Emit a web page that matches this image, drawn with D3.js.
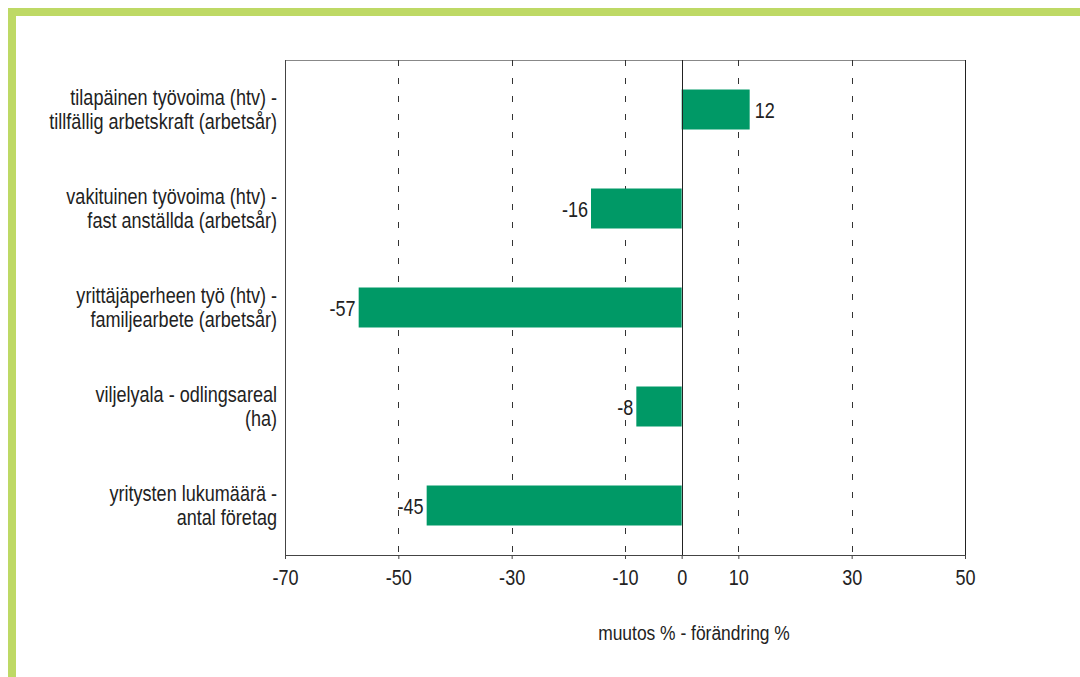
<!DOCTYPE html>
<html><head><meta charset="utf-8">
<script src="https://cdn.jsdelivr.net/npm/d3@7"></script>
<style>
html,body{margin:0;padding:0;background:#fff;}
svg text{font-family:"Liberation Sans",Arial,sans-serif;fill:#222;}
</style></head>
<body><svg id="c" width="1080" height="677"></svg>
<script>
const categories = [
  ["tilapäinen työvoima (htv) -", "tillfällig arbetskraft (arbetsår)"],
  ["vakituinen työvoima (htv) -", "fast anställda (arbetsår)"],
  ["yrittäjäperheen työ (htv) -", "familjearbete (arbetsår)"],
  ["viljelyala  - odlingsareal", "(ha)"],
  ["yritysten lukumäärä -", "antal företag"]
];
const values = [12, -16, -57, -8, -45];
const tickValues = [-70, -50, -30, -10, 0, 10, 30, 50];
const gridValues = [-50, -30, -10, 10, 30];
const axisTitle = "muutos % - förändring %";

const svg = d3.select("#c");
const L = 285, R = 965, T = 60, B = 555;
const FONT = '"Liberation Sans",Arial,sans-serif';
const FS = 21.5, SX = 0.84;

// green frame
svg.append("rect").attr("x", 8).attr("y", 8).attr("width", 1072).attr("height", 8).attr("fill", "#bed965");
svg.append("rect").attr("x", 8).attr("y", 8).attr("width", 8).attr("height", 669).attr("fill", "#bed965");

const x = d3.scaleLinear().domain([-70, 50]).range([L, R]);
const y = d3.scaleBand().domain(d3.range(categories.length)).range([T, B]).paddingInner(0.596).paddingOuter(0.298);

// plot border
svg.append("line").attr("x1", L).attr("x2", R).attr("y1", T + 0.5).attr("y2", T + 0.5).attr("stroke", "#888").attr("stroke-width", 1);
svg.append("line").attr("x1", R + 0.5).attr("x2", R + 0.5).attr("y1", T).attr("y2", B).attr("stroke", "#222").attr("stroke-width", 1);
svg.append("line").attr("x1", L + 0.5).attr("x2", L + 0.5).attr("y1", T).attr("y2", B).attr("stroke", "#444").attr("stroke-width", 1);

// grid
svg.append("g").selectAll("line").data(gridValues).join("line")
  .attr("x1", d => Math.round(x(d)) + 0.5).attr("x2", d => Math.round(x(d)) + 0.5)
  .attr("y1", T).attr("y2", B)
  .attr("stroke", "#333").attr("stroke-width", 1).attr("stroke-dasharray", "6,12");

// bars
svg.append("g").selectAll("rect").data(values).join("rect")
  .attr("x", d => x(Math.min(0, d))).attr("width", d => Math.abs(x(d) - x(0)))
  .attr("y", (d, i) => y(i)).attr("height", y.bandwidth())
  .attr("fill", "#009966");

// zero line
svg.append("line").attr("x1", Math.round(x(0)) + 0.5).attr("x2", Math.round(x(0)) + 0.5).attr("y1", T).attr("y2", B).attr("stroke", "#222");

// value labels
svg.append("g").selectAll("text").data(values).join("text")
  .attr("transform", (d, i) => `translate(${d >= 0 ? x(d) + 5 : x(d) - 3},${y(i) + y.bandwidth() / 2 + 8}) scale(${SX},1)`)
  .attr("text-anchor", d => d >= 0 ? "start" : "end")
  .attr("font-size", FS)
  .text(d => String(d));

// x axis
const ax = svg.append("g").attr("transform", `translate(0,${B})`)
  .call(d3.axisBottom(x).tickValues(tickValues).tickFormat(d => String(d)).tickSizeInner(4).tickSizeOuter(0));
ax.select(".domain").attr("stroke", "#444");
ax.selectAll(".tick line").attr("stroke", "#444");
ax.selectAll(".tick text").attr("font-size", FS).attr("fill", "#222").attr("font-family", FONT)
  .attr("y", 30).attr("dy", 0).attr("transform", `scale(${SX},1)`);

// category labels
const cat = svg.append("g").selectAll("text").data(categories).join("text")
  .attr("text-anchor", "end").attr("font-size", FS)
  .attr("transform", (d, i) => `translate(277,${y(i) + y.bandwidth() / 2}) scale(${SX},1)`);
cat.selectAll("tspan").data(d => d).join("tspan")
  .attr("x", 0).attr("y", (d, j) => j === 0 ? -4.5 : 19.5).text(d => d);

// axis title
svg.append("text").attr("transform", "translate(694,640) scale(0.83,1)").attr("text-anchor", "middle").attr("font-size", 21).text(axisTitle);
</script></body></html>
